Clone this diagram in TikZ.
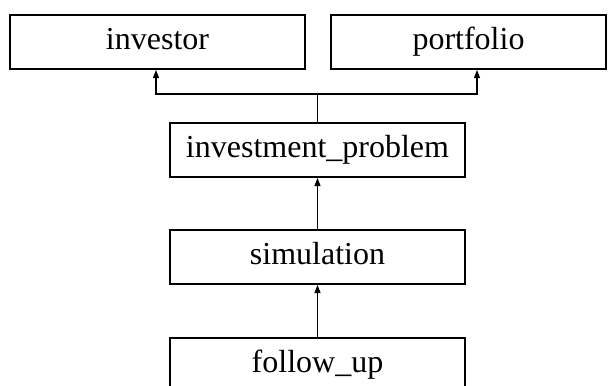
\documentclass[tikz,border=0pt]{standalone}
\usepackage{fontspec}
\setmainfont{Liberation Serif}
\usetikzlibrary{arrows.meta}
\begin{document}
\begin{tikzpicture}[x=1pt,y=-1pt,
  cls/.style={draw,line width=2pt,minimum height=54pt,inner sep=0pt,text height=21.8pt,text depth=7pt,font=\fontsize{32}{36}\selectfont,anchor=north west},
  link/.style={line width=1.2pt},
  conn/.style={link,-{Triangle[length=8pt,width=6pt]}}]
\useasboundingbox (0,0) rectangle (614,386);
\node[cls,minimum width=295pt] (inv) at (9,14) {investor};
\node[cls,minimum width=275pt] (port) at (330,14) {portfolio};
\node[cls,minimum width=295pt] (ip) at (169,122) {investment\_problem};
\node[cls,minimum width=295pt] (sim) at (169,229) {simulation};
\node[cls,minimum width=295pt] (fu) at (169,337) {follow\_up};
\path (ip.north) ++(0,-28) coordinate (j);
\draw[link] (ip.north) -- (j);
\draw[conn] (j) -| (inv.south -| 156,0);
\draw[conn] (j) -| (port.south -| 477,0);
\draw[conn] (sim.north) -- (ip.south);
\draw[conn] (fu.north) -- (sim.south);
\end{tikzpicture}
\end{document}
